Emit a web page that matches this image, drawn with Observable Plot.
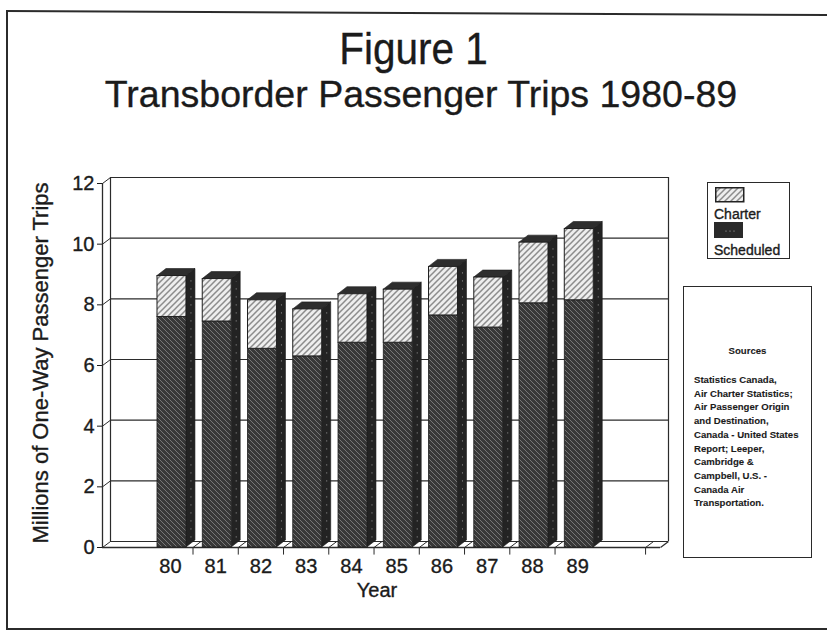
<!DOCTYPE html>
<html>
<head>
<meta charset="utf-8">
<script src="https://cdn.jsdelivr.net/npm/d3@7"></script>
<script src="https://cdn.jsdelivr.net/npm/@observablehq/plot@0.6"></script>
<style>
  html, body { margin: 0; padding: 0; background: #fff; }
  #page { position: relative; width: 827px; height: 633px; overflow: hidden; background: #fff;
          font-family: "Liberation Sans", Arial, Helvetica, sans-serif; color: #1b1b1b;
          -webkit-text-stroke: 0.35px #1b1b1b; }
  .abs { position: absolute; }
  #title { left: 0; width: 827px; top: 24px; text-align: center; font-size: 45px; line-height: 50px; }
  #title span { display: inline-block; transform: scaleX(0.9); transform-origin: center; }
  #subtitle { left: 0; width: 842px; top: 74px; text-align: center; font-size: 37.5px; line-height: 40px; }
  #ylabel { left: 41px; top: 363px; font-size: 22px; white-space: nowrap;
            transform: translate(-50%, -50%) rotate(-90deg); }
  #xlabel { left: 377px; top: 590px; font-size: 20px; transform: translate(-50%, -50%); }
  #legend { left: 707px; top: 182px; width: 81px; height: 75px; border: 1.5px solid #2a2a2a; }
  #legend .lab { position: absolute; left: 6px; font-size: 14px; line-height: 16px; }
  #sources { left: 683px; top: 286px; width: 127px; height: 270px; border: 1.5px solid #2a2a2a;
             font-size: 9.6px; font-weight: bold; -webkit-text-stroke: 0.1px #1b1b1b; }
  #sources .head { position: absolute; left: 0; width: 127px; top: 58px; text-align: center; }
  #sources .body { position: absolute; left: 10px; top: 86px; line-height: 13.7px; white-space: nowrap; }
  .frame { background: #2b2b2b; }
  #chart { left: 0; top: 130px; }
  #chart text { stroke: #1b1b1b; stroke-width: 0.35px; }
</style>
</head>
<body>
<div id="page">
  <!-- page border -->
  <div class="abs frame" style="left:6px;top:10px;width:1.5px;height:620px;"></div>
  <div class="abs frame" style="left:6px;top:10px;width:830px;height:1.5px;transform-origin:0 0;transform:rotate(0.28deg);"></div>
  <div class="abs frame" style="left:6px;top:628px;width:830px;height:1.5px;"></div>

  <div id="title" class="abs"><span>Figure 1</span></div>
  <div id="subtitle" class="abs">Transborder Passenger Trips 1980-89</div>
  <div id="ylabel" class="abs">Millions of One-Way Passenger Trips</div>
  <div id="xlabel" class="abs">Year</div>

  <div id="chart" class="abs"></div>

  <div id="legend" class="abs">
    <svg class="abs" style="left:7px;top:4px" width="30" height="16"><rect x="0.75" y="0.75" width="28" height="14" fill="url(#p-charter)" stroke="#222" stroke-width="1.5"/></svg>
    <div class="lab" style="top:23px">Charter</div>
    <svg class="abs" style="left:6px;top:39px" width="30" height="17"><rect x="0" y="0" width="29" height="16" fill="#2a2a2a"/><circle cx="12" cy="9" r="0.6" fill="#bbb"/><circle cx="16" cy="9" r="0.6" fill="#bbb"/><circle cx="20" cy="9" r="0.6" fill="#bbb"/></svg>
    <div class="lab" style="top:59px">Scheduled</div>
  </div>

  <div id="sources" class="abs">
    <div class="head">Sources</div>
    <div class="body" id="srcbody"></div>
  </div>

  <!-- fill patterns for the bar faces -->
  <svg width="0" height="0" style="position:absolute">
    <defs>
      <pattern id="p-sched" patternUnits="userSpaceOnUse" width="5" height="5">
        <rect width="5" height="5" fill="#383838"/>
        <path d="M-1,-1 L6,6 M-1,4 L1,6 M4,-1 L6,1" stroke="#767676" stroke-width="1"/>
      </pattern>
      <pattern id="p-charter" patternUnits="userSpaceOnUse" width="6" height="6">
        <rect width="6" height="6" fill="#eeeeee"/>
        <path d="M-1,7 L7,-1 M-1,1 L1,-1 M5,7 L7,5" stroke="#8c8c8c" stroke-width="1.5"/>
      </pattern>
    </defs>
  </svg>
</div>

<script>
// Transborder passenger trips, millions of one-way trips
const years = ["80", "81", "82", "83", "84", "85", "86", "87", "88", "89"];
const scheduled = [7.6, 7.45, 6.55, 6.3, 6.75, 6.75, 7.65, 7.25, 8.05, 8.15];
const charter = [1.35, 1.4, 1.6, 1.55, 1.6, 1.75, 1.6, 1.65, 2.0, 2.35];
const yTicks = [0, 2, 4, 6, 8, 10, 12];
const sourceLines = [
  "Statistics Canada,",
  "Air Charter Statistics;",
  "Air Passenger Origin",
  "and Destination,",
  "Canada - United States",
  "Report; Leeper,",
  "Cambridge &",
  "Campbell, U.S. -",
  "Canada Air",
  "Transportation."
];

document.getElementById("srcbody").innerHTML = sourceLines.join("<br>");

// Each year occupies one slot on a linear x axis; slot 0 and slot 11 stay empty.
const xMax = 12.33;
const slotPx = 558 / xMax;            // pixels per x unit
const yPx = 364 / 12;                 // pixels per y unit
const wallDX = 8 / slotPx, wallDY = 6 / yPx;   // depth of the back wall
const barDX = 9 / slotPx, barDY = 7 / yPx;     // depth of each bar
const faceL = 0.215, faceR = 0.855;            // front face inside the slot

const bars = years.map((year, i) => {
  const k = i + 1;
  return {
    year, k,
    xL: k + faceL, xR: k + faceR,
    sched: scheduled[i],
    total: scheduled[i] + charter[i]
  };
});

// Side faces (parallelograms) as two-point areas
const sidePts = bars.flatMap(b => [
  {k: b.k, x: b.xR, y1: 0, y2: b.total},
  {k: b.k, x: b.xR + barDX, y1: barDY, y2: b.total + barDY}
]);
// Top faces
const topPts = bars.flatMap(b => [
  {k: b.k, y: b.total, x1: b.xL, x2: b.xR},
  {k: b.k, y: b.total + barDY, x1: b.xL + barDX, x2: b.xR + barDX}
]);

const xTickPos = [2, 3, 4, 5, 6, 7, 8, 9, 10, 12];
const ink = "#2b2b2b";

const chart = Plot.plot({
  width: 827,
  height: 480,
  marginLeft: 102,
  marginRight: 827 - 660,
  marginTop: 53,
  marginBottom: 63,
  style: {
    fontFamily: "'Liberation Sans', Arial, Helvetica, sans-serif",
    fontSize: "20px",
    color: "#1b1b1b",
    background: "transparent",
    overflow: "visible"
  },
  x: {
    domain: [0, xMax],
    ticks: bars.map(b => b.k + 0.5),
    tickFormat: d => years[Math.round(d - 1.5)],
    tickSize: 0,
    tickPadding: 11,
    label: null
  },
  y: {
    domain: [0, 12],
    ticks: yTicks,
    tickSize: 5,
    tickPadding: 3,
    label: null
  },
  marks: [
    // back wall grid and frame
    Plot.ruleY(yTicks, {x1: 0, x2: xMax, dx: 8, dy: -6, stroke: ink, strokeWidth: 1.2}),
    Plot.ruleX([0, xMax], {y1: 0, y2: 12, dx: 8, dy: -6, stroke: ink, strokeWidth: 1.2}),
    // floor and front axis
    Plot.ruleY([0], {x1: 0, x2: xMax, stroke: ink, strokeWidth: 1.3}),
    Plot.ruleX([0], {y1: 0, y2: 12, stroke: ink, strokeWidth: 1.3}),
    Plot.link(yTicks, {x1: 0, y1: d => d, x2: wallDX, y2: d => d + wallDY, stroke: ink, strokeWidth: 1}),
    Plot.link([xMax], {x1: d => d, y1: 0, x2: d => d + wallDX, y2: wallDY, stroke: ink, strokeWidth: 1.2}),
    // x tick marks below the floor
    Plot.ruleX(xTickPos, {y1: 0, y2: -0.25, stroke: ink, strokeWidth: 1}),
    Plot.link(xTickPos, {x1: d => d, y1: 0, x2: d => d + wallDX, y2: wallDY, stroke: ink, strokeWidth: 1}),
    // bar side faces
    Plot.areaY(sidePts, {x: "x", y1: "y1", y2: "y2", z: "k", fill: "#232323", stroke: "#1a1a1a", strokeWidth: 0.6}),
    Plot.ruleX(bars, {x: b => b.xR + barDX / 2, y1: barDY / 2 + 0.2, y2: b => b.total + barDY / 2 - 0.2,
                      stroke: "#9a9a9a", strokeWidth: 1, strokeDasharray: "1 7"}),
    // bar top faces
    Plot.areaX(topPts, {y: "y", x1: "x1", x2: "x2", z: "k", fill: "#2e2e2e", stroke: "#1a1a1a", strokeWidth: 0.6}),
    // front faces: scheduled below, charter stacked above
    Plot.rect(bars, {x1: "xL", x2: "xR", y1: 0, y2: "sched", fill: "url(#p-sched)", stroke: "#1f1f1f", strokeWidth: 0.8}),
    Plot.rect(bars, {x1: "xL", x2: "xR", y1: "sched", y2: "total", fill: "url(#p-charter)", stroke: "#1f1f1f", strokeWidth: 1})
  ]
});

document.getElementById("chart").appendChild(chart);
</script>
</body>
</html>
